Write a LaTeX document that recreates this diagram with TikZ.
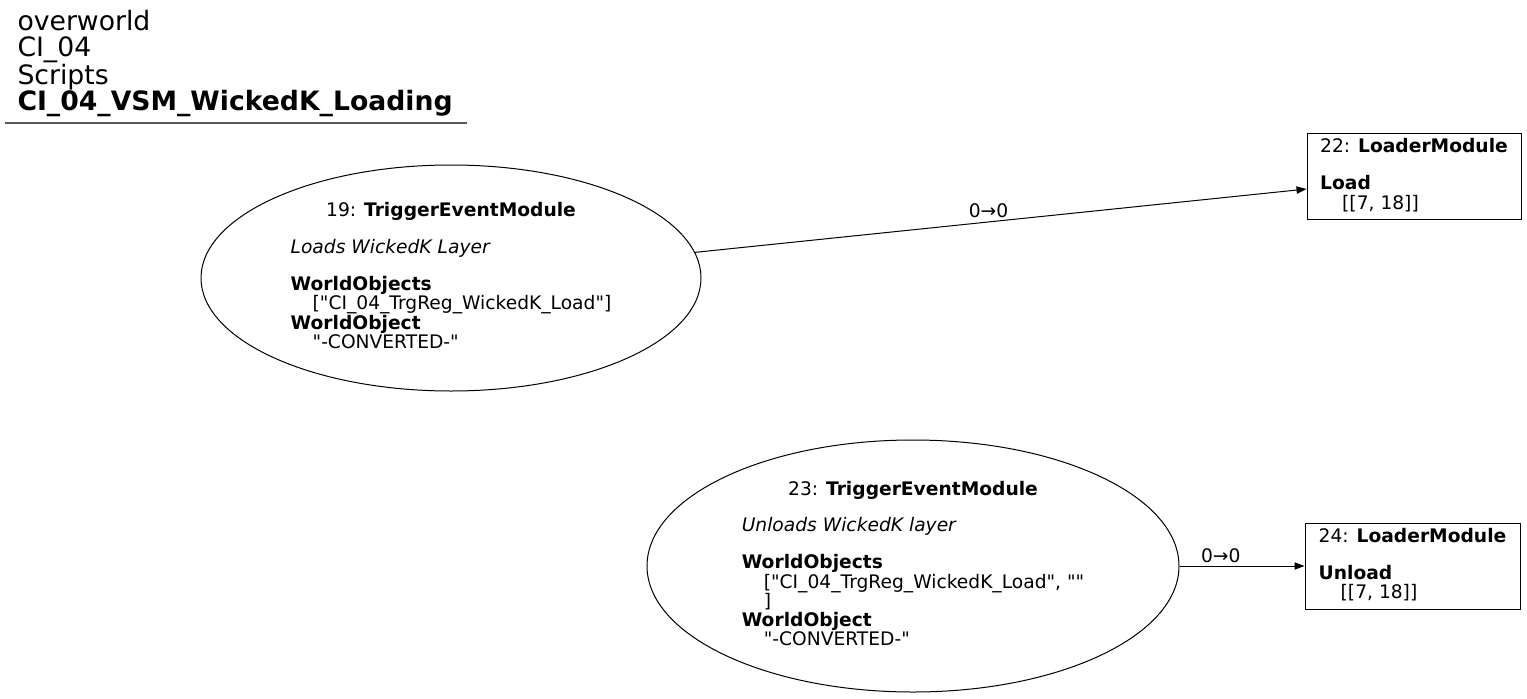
\documentclass[tikz,border=0pt]{standalone}
\usepackage{fontspec}
\setmainfont{DejaVu Sans}[Ligatures=TeXOff]
\usetikzlibrary{arrows.meta,shapes.geometric,positioning}
\renewcommand{\arraystretch}{0.96}

\begin{document}
\begin{tikzpicture}[x=0.75pt,y=-0.75pt,>={Triangle[length=7.5pt,width=5.5pt]},
  font=\fontsize{14}{13.6}\selectfont,line width=0.75pt]
  \tikzset{
    trig/.style={draw,ellipse,inner sep=0pt},
    loader/.style={draw,rectangle,inner sep=0pt,minimum width=160.5pt,minimum height=65pt},
    arr/.style={->},
    lbl/.style={inner sep=1pt}
  }
  \useasboundingbox (0,0) rectangle (1527,699);

  % Header
  \node[anchor=north west,align=left,inner sep=0pt,font=\fontsize{20}{19.5}\selectfont] (title) at (17,10)
    {overworld\\CI\_04\\Scripts\\\textbf{CI\_04\_VSM\_WickedK\_Loading}};
  \draw[black!65,line width=0.9pt] (5,123) -- (467,123);

  % Trigger modules
  \node[trig,minimum width=375pt,minimum height=169.5pt] (t19) at (451,278)
    {\begin{tabular}{@{}l@{}}
      \multicolumn{1}{@{}c@{}}{19: \textbf{TriggerEventModule}}\\
      \\
      \textit{Loads WickedK Layer}\\
      \\
      \textbf{WorldObjects}\\
      \hspace*{16.5pt}["CI\_04\_TrgReg\_WickedK\_Load"]\\
      \textbf{WorldObject}\\
      \hspace*{16.5pt}"-CONVERTED-"
    \end{tabular}};
  \node[trig,minimum width=399pt,minimum height=189pt] (t23) at (913,566)
    {\begin{tabular}{@{}l@{}}
      \multicolumn{1}{@{}c@{}}{23: \textbf{TriggerEventModule}}\\
      \\
      \textit{Unloads WickedK layer}\\
      \\
      \textbf{WorldObjects}\\
      \hspace*{16.5pt}["CI\_04\_TrgReg\_WickedK\_Load", ""\\
      \hspace*{16.5pt}]\\
      \textbf{WorldObject}\\
      \hspace*{16.5pt}"-CONVERTED-"
    \end{tabular}};

  % Loader modules
  \node[loader] (l22) at (1414,176.5)
    {\begin{tabular}{@{}l@{}}
      \multicolumn{1}{@{}c@{}}{22: \textbf{LoaderModule}}\\
      \\
      \textbf{Load}\\
      \hspace*{16.5pt}[[7, 18]]
    \end{tabular}};
  \node[loader,minimum width=161.25pt,minimum height=64.5pt] (l24) at (1412.5,566)
    {\begin{tabular}{@{}l@{}}
      \multicolumn{1}{@{}c@{}}{24: \textbf{LoaderModule}}\\
      \\
      \textbf{Unload}\\
      \hspace*{16.5pt}[[7, 18]]
    \end{tabular}};

  % Links
  \draw[arr] (t19.6) -- ([yshift=-9.4pt]l22.west) node[lbl,pos=0.48,above=2pt] {0→0};
  \draw[arr] (t23.east) -- (l24.west) node[lbl,pos=0.33,above=1pt] {0→0};
\end{tikzpicture}
\end{document}
